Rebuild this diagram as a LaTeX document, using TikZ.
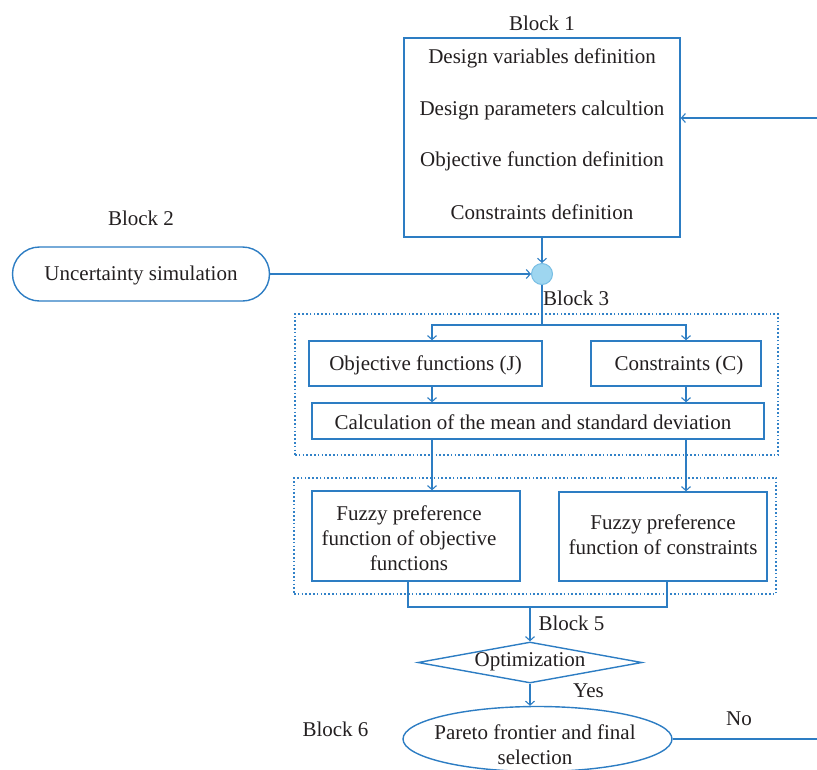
\documentclass[tikz,border=0pt]{standalone}
\usepackage{fontspec}
\setmainfont{Liberation Serif}
\usetikzlibrary{arrows.meta,shapes.geometric,calc}
\definecolor{lineblue}{RGB}{45,125,195}
\definecolor{dotblue}{RGB}{50,130,200}
\definecolor{circfill}{RGB}{158,214,240}
\definecolor{circline}{RGB}{120,190,228}
\definecolor{txt}{RGB}{35,31,32}
\begin{document}
\begin{tikzpicture}[x=1pt,y=-1pt,
  every node/.style={text=txt,font=\fontsize{21}{25}\selectfont},
  box/.style={draw=lineblue,line width=1.4pt,inner sep=0pt},
  lbl/.style={inner sep=0pt,yshift=-1.5pt},
  conn/.style={draw=lineblue,line width=1.4pt},
  arr/.style={conn,-{Straight Barb[length=4pt,width=9pt,line width=1.1pt]}},
  dotbox/.style={draw=dotblue,line width=1.4pt,dash pattern=on 1.6pt off 2.2pt}]
\useasboundingbox (0,0) rectangle (817,769);

% Block 1
\node[lbl] (lb1) at (542,22) {Block 1};
\node[box,minimum width=276pt,minimum height=199pt] (b1) at (542,137.5) {};
\node[lbl] (t1) at (542,57) {Design variables definition};
\node[lbl] (t2) at (542,109) {Design parameters calcultion};
\node[lbl] (t3) at (542,160) {Objective function definition};
\node[lbl] (t4) at (542,211) {Constraints definition};

% Block 2
\node[lbl] (lb2) at (141,217) {Block 2};
\node[box,minimum width=257pt,minimum height=54pt,rounded corners=27pt] (st) at (141,274) {};
\node[lbl] (stt) at (141,274) {Uncertainty simulation};

% junction circle
\node[circle,draw=circline,fill=circfill,line width=1pt,minimum size=21pt,inner sep=0pt] (c) at (542,274) {};

% Block 3
\node[lbl,anchor=west] (lb3) at (543,297) {Block 3};
\node[dotbox,minimum width=483pt,minimum height=141pt,inner sep=0pt] (d3) at (536.5,384.5) {};
\node[box,minimum width=233pt,minimum height=45pt] (obj) at (425.5,363.5) {};
\node[lbl] (objt) at (425.5,363.5) {Objective functions (J)};
\node[box,minimum width=170pt,minimum height=45pt] (con) at (676,363.5) {};
\node[lbl] (cont) at (679,363.5) {Constraints (C)};
\node[box,minimum width=452pt,minimum height=36pt] (calc) at (538,421) {};
\node[lbl] (calct) at (533,421) {Calculation of the mean and standard deviation};

% Block 4
\node[dotbox,minimum width=482pt,minimum height=116pt,inner sep=0pt] (d4) at (535,536) {};
\node[box,minimum width=208pt,minimum height=90pt] (f1) at (416,536) {};
\node[lbl,align=center] (f1t) at (409,537) {Fuzzy preference\\function of objective\\functions};
\node[box,minimum width=208pt,minimum height=89pt] (f2) at (663,536.5) {};
\node[lbl,align=center] (f2t) at (663,533.5) {Fuzzy preference\\function of constraints};

% Block 5
\node[lbl] (lb5) at (571.5,622) {Block 5};
\node[diamond,draw=lineblue,line width=1.4pt,minimum width=224pt,minimum height=41pt,inner sep=0pt] (dia) at (530,662.5) {};
\node[lbl] (diat) at (530,660) {Optimization};
\node[lbl] (yes) at (588.5,689) {Yes};

% Block 6
\node[lbl] (lb6) at (335.5,728) {Block 6};
\node[ellipse,draw=lineblue,line width=1.4pt,minimum width=269pt,minimum height=65pt,inner sep=0pt] (el) at (537.5,739) {};
\node[lbl,align=center] (elt) at (535,743.5) {Pareto frontier and final\\selection};
\node[lbl] (no) at (739,717) {No};

% coordinates
\coordinate (rin) at (817,118);
\coordinate (rout) at (817,739);
\coordinate (j) at (542,325);
\coordinate (xl) at (432,0);
\coordinate (xr) at (686,0);
\coordinate (ma) at (408,607);
\coordinate (mb) at (667,607);
\coordinate (mc) at (530,607);

% connectors
\draw[arr] (rin) -- (rin -| b1.east);
\draw[arr] (b1.south) -- (c.north);
\draw[arr] (st.east) -- (c.west);
\draw[conn] (c.south) -- (j);
\draw[arr] (j) -| (obj.north -| xl);
\draw[arr] (j) -| (con.north -| xr);
\draw[arr] (obj.south -| xl) -- (calc.north -| xl);
\draw[arr] (con.south -| xr) -- (calc.north -| xr);
\draw[arr] (calc.south -| xl) -- (f1.north -| xl);
\draw[arr] (calc.south -| xr) -- (f2.north -| xr);
\draw[conn] (f1.south -| ma) -- (ma) -- (mb) -- (f2.south -| mb);
\draw[arr] (mc) -- (dia.north);
\draw[arr] (dia.south) -- (dia.south |- el.north);
\draw[conn] (el.east) -- (rout);
\end{tikzpicture}
\end{document}
